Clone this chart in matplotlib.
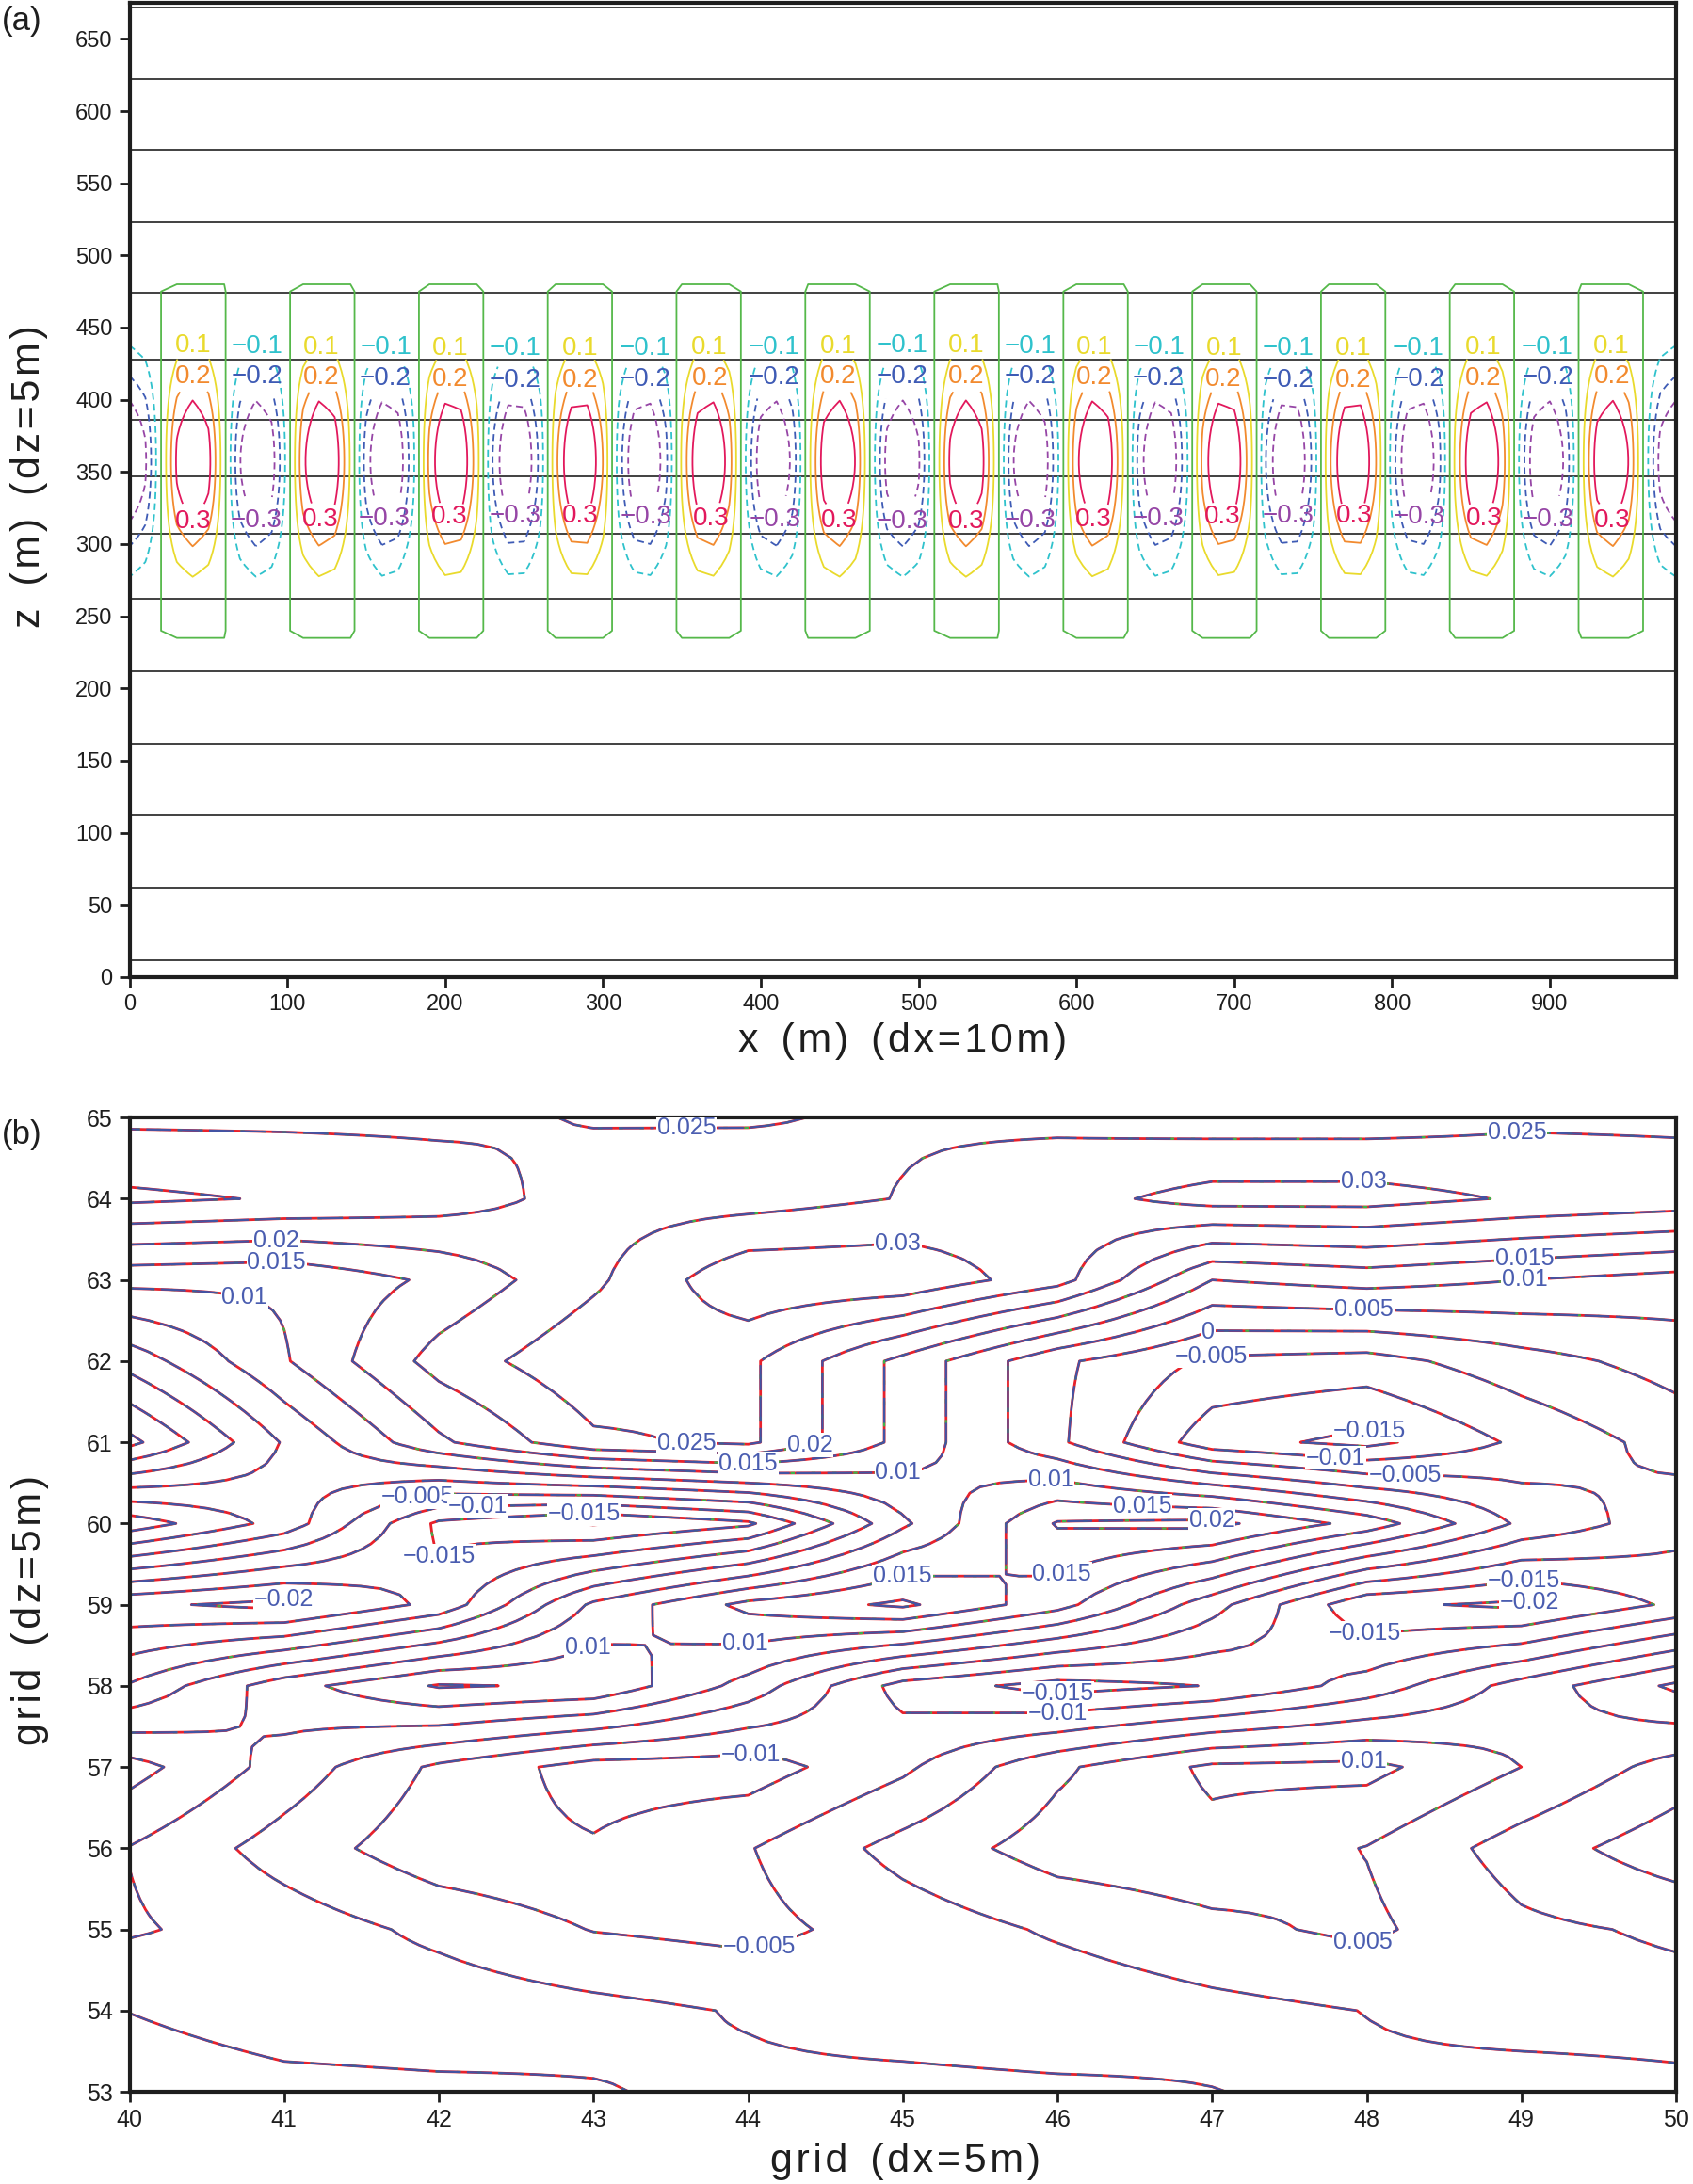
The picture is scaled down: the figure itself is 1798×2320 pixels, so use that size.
import numpy as np
import matplotlib
matplotlib.use("Agg")
import matplotlib.pyplot as plt

plt.rcParams['font.family'] = ['Liberation Sans', 'DejaVu Sans']

# ---------------------------------------------------------------------
# (a) wave packet, x-z section (dx=10 m, dz=5 m)
# ---------------------------------------------------------------------
x_a = np.arange(0, 981, 10)
z_a = np.arange(0, 676, 5)
wave_amp = 0.456
n_waves = 12
wave_x0 = 20.0
pkt_center = 357.5
pkt_width = 65.0
pkt_half = 122.0
theta_lines = [12, 62, 112, 162, 212, 262, 307, 347, 386, 428, 474, 523, 573, 622, 672]
levels_pos = [0.1, 0.2, 0.3]
levels_neg = [-0.3, -0.2, -0.1]

# ---------------------------------------------------------------------
# (b) field on the model grid (values x 1e-3), rows y=53 ... 65, cols x=40 ... 50
# ---------------------------------------------------------------------
gx = np.arange(40, 51)
gy = np.arange(53, 66)
row53 = [-3, -1.5, -1, -0.3, 1, 1.5, 1, 0.1, -1, -2, -1]
row54 = [0.1, 2.5, 3, 1.5, -0.4, -2.5, -3.5, -1.5, 0.1, 2, 1.8]
row55 = [5.6, 2.7, -1.2, -5.2, -6.5, -2.9, 0.7, 3.8, 6.0, 1.0, -0.7]
row56 = [4.8, -2.2, -8.3, -9.5, -5.3, 1.8, 7.35, 8.5, 4.8, -2.3, -8.1]
row57 = [12, 3, -6, -12.2, -12.5, -6, 4, 11, 11.5, 5, -2]
row58 = [-4.5, 8, 15.5, 14.2, 3.1, -12, -17, -14.8, -8, 2, 11]
row59 = [-19, -21.5, -13.5, 6, 16.5, 21, 12, -3, -19, -21, -14]
row60 = [13, 3, -16, -20.5, -16, 4, 20.5, 21.5, 13, -1, -8]
row61 = [-16.5, 0.5, 14, 24, 26, 13.5, 1, -13, -16.5, -9, -3]
row62 = [-3, 9.5, 22, 29, 26, 13.5, 1, -6, -7, -2, 2]
row63 = [11.5, 10.8, 16, 24, 34, 34, 27, 10, 12, 10, 8]
row64 = [31, 29.6, 27.5, 23, 22.9, 25.2, 28, 32, 32, 29.5, 28]
row65 = [24, 24, 24, 25.3, 25.3, 24.5, 24, 22.5, 22.5, 24, 24]
levels_b = np.round(np.arange(-5, 7) * 0.005, 3)

# where the contour labels sit in (b)
label_spots_b = [
    (43.6, 64.93), (48.97, 64.83), (47.98, 64.19), (40.95, 63.48), (40.95, 63.22),
    (40.75, 62.85), (44.97, 63.39), (49.02, 63.23), (49.02, 62.99), (47.98, 62.57),
    (46.99, 62.27), (46.99, 62.09), (48.0, 61.07), (47.8, 60.82), (48.25, 60.65),
    (43.6, 60.99), (44.4, 60.96), (44.0, 60.72), (44.97, 60.51), (45.96, 60.46),
    (41.85, 60.42), (42.25, 60.25), (42.94, 60.13), (46.55, 60.22), (47.0, 60.04),
    (42.0, 59.57), (46.0, 59.5), (45.0, 59.34), (41.0, 59.09), (49.02, 59.34),
    (49.06, 59.09), (48.0, 58.71), (43.98, 58.45), (42.98, 58.41), (46.0, 57.88),
    (46.0, 57.66), (44.02, 57.16), (47.98, 57.08), (44.07, 54.82), (47.98, 54.9),
]


def fmt_b(v):
    s = f"{v:.3f}".rstrip('0').rstrip('.')
    if s in ('-0', ''):
        s = '0'
    return s.replace('-', '\u2212')


def fmt_a(v):
    return f"{v:.1f}".replace('-', '\u2212')


def spaced(s):
    return '\u200a'.join(s)


def style_axes(ax, fs):
    for sp in ax.spines.values():
        sp.set_linewidth(3.0)
        sp.set_color('#1e1e1e')
    ax.tick_params(direction='out', length=8, width=2, labelsize=fs, pad=5,
                   colors='#1e1e1e', top=False, right=False)


def bilinear_mesh(xs, ys, vals, n=8):
    # the grid values spread over a finer mesh (bilinear, like the contouring
    # itself) so that the drawn isolines are not made of straight cell chords
    xf = np.linspace(xs[0], xs[-1], (len(xs) - 1) * n + 1)
    yf = np.linspace(ys[0], ys[-1], (len(ys) - 1) * n + 1)
    tmp = np.array([np.interp(xf, xs, r) for r in vals])
    out = np.array([np.interp(yf, ys, c) for c in tmp.T]).T
    return xf, yf, out


fig = plt.figure(figsize=(17.98, 23.2), dpi=100)
ax_a = fig.add_axes([0.0765, 0.5526, 0.9135, 0.4461])
ax_b = fig.add_axes([0.0765, 0.0422, 0.9135, 0.4461])

# ---------------- panel (a) ----------------
wave_len = x_a[-1] / n_waves
X, Z = np.meshgrid(x_a, z_a)
env = np.exp(-((Z - pkt_center) / pkt_width) ** 2) * (np.abs(Z - pkt_center) < pkt_half)
W = wave_amp * np.sin(2 * np.pi * (X - wave_x0) / wave_len) * env

ax_a.hlines(theta_lines, x_a[0], x_a[-1], colors='#202020', linewidth=1.2, zorder=1)
ax_a.contour(x_a, z_a, W, levels=[1e-6], colors=['#55b84a'], linewidths=1.3, zorder=2)
csn = ax_a.contour(x_a, z_a, W, levels=levels_neg,
                   colors=['#9646a6', '#3e5bb5', '#2fc2cc'], linewidths=1.3,
                   linestyles=[(0, (4, 2.5))] * 3, zorder=2)
csp = ax_a.contour(x_a, z_a, W, levels=levels_pos,
                   colors=['#e9da2c', '#f28a2e', '#e2185c'], linewidths=1.3, zorder=2)


def label_z(level, top=True):
    d = pkt_width * np.sqrt(np.log(wave_amp / abs(level)))
    return pkt_center + d if top else pkt_center - d


xc_pos = wave_x0 + wave_len * (0.25 + np.arange(n_waves))
xc_neg = wave_x0 + wave_len * (0.75 + np.arange(n_waves - 1))
spots_pos = ([(x, label_z(0.1)) for x in xc_pos] + [(x, label_z(0.2)) for x in xc_pos]
             + [(x, label_z(0.3, top=False)) for x in xc_pos])
spots_neg = ([(x, label_z(0.1)) for x in xc_neg] + [(x, label_z(0.2)) for x in xc_neg]
             + [(x, label_z(0.3, top=False)) for x in xc_neg])
for cs, spots in ((csp, spots_pos), (csn, spots_neg)):
    txts = ax_a.clabel(cs, manual=spots, inline=True, inline_spacing=3, fmt=fmt_a, fontsize=20)
    for t in txts:
        t.set_rotation(0)

ax_a.set_xlim(0, 980)
ax_a.set_ylim(0, 675)
ax_a.set_xticks(np.arange(0, 901, 100))
ax_a.set_yticks(np.arange(0, 651, 50))
style_axes(ax_a, 17)

# ---------------- panel (b) ----------------
F = np.array([row53, row54, row55, row56, row57, row58, row59,
              row60, row61, row62, row63, row64, row65]) * 1e-3
xf, yf, Ff = bilinear_mesh(gx, gy, F)

runs = [('#1a1a1a', 1.0, 'solid'),
        ('#e8212b', 2.0, 'solid'),
        ('#3cb44b', 1.6, (0, (2, 8))),
        ('#4353a3', 1.6, (0, (12, 3)))]
for color, lw, ls in runs:
    cs_b = ax_b.contour(xf, yf, Ff, levels=levels_b, colors=[color], linewidths=lw,
                        linestyles=[ls], zorder=2)
txts = ax_b.clabel(cs_b, manual=label_spots_b, inline=True, inline_spacing=3,
                   fmt=fmt_b, fontsize=18, colors='#4a5db0')
for t in txts:
    t.set_rotation(0)
    t.set_bbox(dict(facecolor='white', edgecolor='none', pad=0.5))
    t.set_zorder(5)

ax_b.set_xlim(40, 50)
ax_b.set_ylim(53, 65)
ax_b.set_xticks(gx)
ax_b.set_yticks(gy)
style_axes(ax_b, 18)

# ---------------- texts ----------------
fig.text(0.001, 0.9975, '(a)', fontsize=25, ha='left', va='top', color='#1e1e1e')
fig.text(0.001, 0.4875, '(b)', fontsize=25, ha='left', va='top', color='#1e1e1e')
fig.text(0.017, 0.782, spaced('z') + '  ' + spaced('(m)') + '  ' + spaced('(dz=5m)'),
         rotation=90, fontsize=31, ha='center', va='center', color='#1e1e1e')
fig.text(0.533, 0.5233, spaced('x') + '  ' + spaced('(m)') + '  ' + spaced('(dx=10m)'),
         fontsize=31, ha='center', va='center', color='#1e1e1e')
fig.text(0.018, 0.2625, spaced('grid') + '  ' + spaced('(dz=5m)'),
         rotation=90, fontsize=31, ha='center', va='center', color='#1e1e1e')
fig.text(0.5345, 0.0103, spaced('grid') + '  ' + spaced('(dx=5m)'),
         fontsize=31, ha='center', va='center', color='#1e1e1e')

fig.savefig('out.png', dpi=100)
